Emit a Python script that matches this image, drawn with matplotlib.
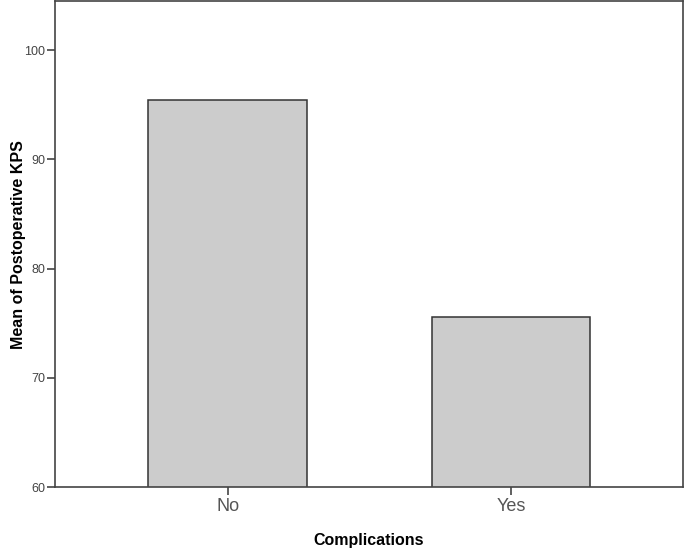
import matplotlib
matplotlib.use("Agg")
import matplotlib.pyplot as plt

categories = ["No", "Yes"]
means = [95.4, 75.6]
y_ticks = [60, 70, 80, 90, 100]

plt.rcParams['font.family'] = ['Liberation Sans', 'DejaVu Sans']

fig = plt.figure(figsize=(6.85, 5.49), dpi=100)
ax = fig.add_axes([0.0796, 0.1124, 0.918, 0.8849])

x = list(range(len(categories)))
ax.bar(x, means, width=0.559, color="#cccccc", edgecolor="#333333", linewidth=1.1, zorder=2)

ax.set_ylim(60, 104.45)
ax.set_xlim(-0.611, 1.609)
ax.set_yticks(y_ticks)
ax.set_yticklabels([str(t) for t in y_ticks], fontsize=9, color="#444444")
ax.set_xticks(x)
ax.set_xticklabels(categories, fontsize=13, color="#555555")

for s in ax.spines.values():
    s.set_color("#444444")
    s.set_linewidth(1.2)

ax.tick_params(axis='y', length=5.5, width=1.2, color="#444444", pad=1)
ax.tick_params(axis='x', length=6, width=1.2, color="#444444", pad=2)

ax.set_xlabel("Complications", fontsize=11.5, fontweight="bold")
ax.set_ylabel("Mean of Postoperative KPS", fontsize=11.5, fontweight="bold")
ax.yaxis.set_label_coords(-0.045, 0.5)
ax.xaxis.set_label_coords(0.5, -0.094)

fig.savefig("out.png", dpi=100)
